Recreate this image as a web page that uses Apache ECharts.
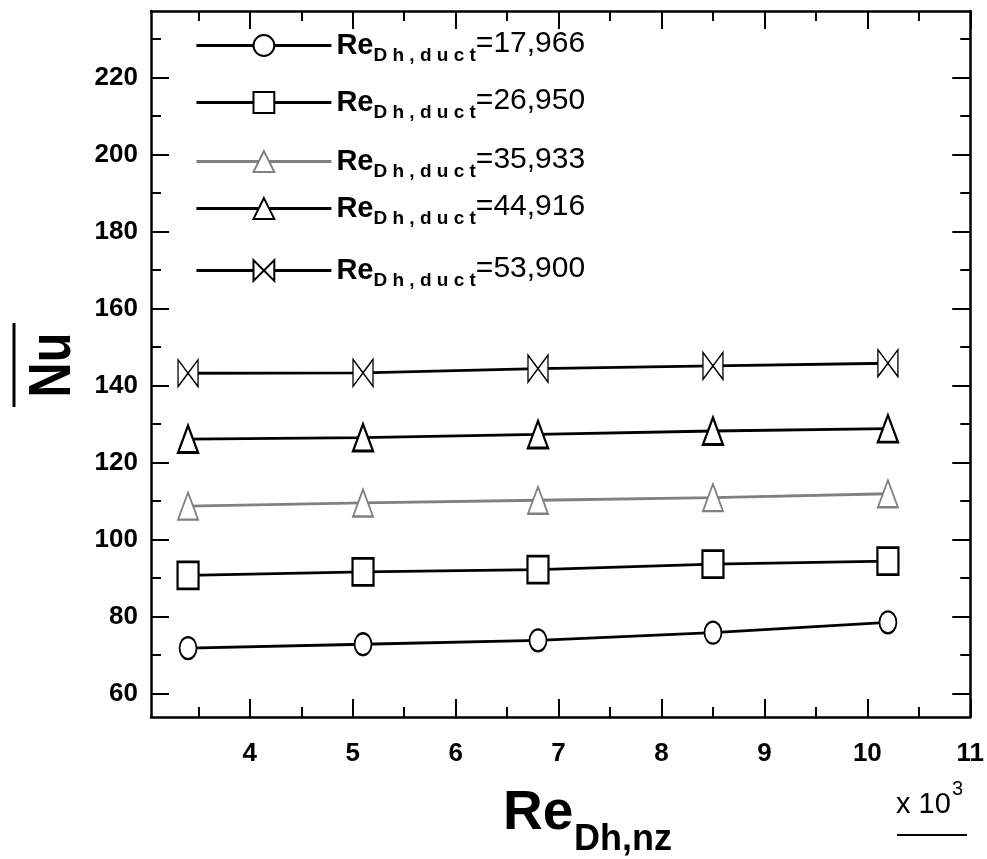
<!DOCTYPE html>
<html>
<head>
<meta charset="utf-8">
<title>Nu vs Re</title>
<script src="https://cdn.jsdelivr.net/npm/echarts@6/dist/echarts.min.js"></script>
<style>
html, body { margin: 0; padding: 0; background: #fff; }
#chart { width: 987px; height: 859px; }
</style>
</head>
<body>
<div id="chart"></div>
<script>
// x values (x 10^3)
var reNz = [3.4, 5.1, 6.8, 8.5, 10.2];

// duct Reynolds numbers (legend)
var reDuct = ['17,966', '26,950', '35,933', '44,916', '53,900'];

// mean Nusselt number per duct Re
var nu17966 = [71.8, 72.8, 73.8, 75.8, 78.5];
var nu26950 = [90.7, 91.6, 92.2, 93.6, 94.4];
var nu35933 = [108.7, 109.5, 110.2, 110.9, 111.9];
var nu44916 = [126.1, 126.5, 127.3, 128.2, 128.8];
var nu53900 = [143.2, 143.3, 144.4, 145.1, 145.8];

// ticks
var xTickLabels = [4, 5, 6, 7, 8, 9, 10, 11];
var xMinorTicks = [3.5, 4.5, 5.5, 6.5, 7.5, 8.5, 9.5, 10.5];
var yTickLabels = [60, 80, 100, 120, 140, 160, 180, 200, 220];
var yMinorTicks = [70, 90, 110, 130, 150, 170, 190, 210, 230];

var allNu = [nu17966, nu26950, nu35933, nu44916, nu53900];

var FONT = '"Liberation Sans", Arial, sans-serif';

var xMin = 3.04, xMax = 11;
var yMin = 53.9, yMax = 237.3;

var markerShapes = ['circle', 'rect', 'triangle', 'triangle',
	'path://M0,0 L0,20 L10,10 Z M20,0 L20,20 L10,10 Z'];
var markerSizes = [[17, 22], [21, 27], [20, 27], [20, 27], [20, 27]];
var lineColors = ['#000', '#000', '#808080', '#000', '#000'];
var borderWidths = [2, 2.5, 2, 2.5, 1.5];
var legendRows = [48, 105, 164, 211, 273];

function makeAxis(dim, position, values, tickLen, showLine, showLabel) {
	var ax = {
		type: 'value',
		position: position,
		min: dim === 'x' ? xMin : yMin,
		max: dim === 'x' ? xMax : yMax,
		splitLine: { show: false },
		axisLine: { show: showLine, lineStyle: { color: '#000', width: 2.5 } },
		axisTick: {
			show: true,
			inside: true,
			length: tickLen,
			customValues: values,
			lineStyle: { color: '#000', width: 2 }
		},
		axisLabel: { show: false }
	};
	if (showLabel) {
		ax.axisLabel = {
			show: true,
			customValues: values,
			margin: dim === 'x' ? 24 : 13,
			color: '#000',
			fontSize: 26,
			fontWeight: 'bold',
			fontFamily: FONT
		};
	}
	return ax;
}

var chart = echarts.init(document.getElementById('chart'));

var series = reDuct.map(function (name, i) {
	return {
		name: name,
		type: 'line',
		xAxisIndex: 0,
		yAxisIndex: 0,
		data: reNz.map(function (x, k) { return [x, allNu[i][k]]; }),
		symbol: markerShapes[i],
		symbolSize: markerSizes[i],
		showAllSymbol: true,
		lineStyle: { color: lineColors[i], width: 2.8 },
		itemStyle: { color: '#fff', borderColor: lineColors[i], borderWidth: borderWidths[i] },
		emphasis: { disabled: true }
	};
});

var legends = reDuct.map(function (name, i) {
	return {
		data: [name],
		left: 195,
		top: legendRows[i] - 22,
		padding: 0,
		orient: 'vertical',
		itemWidth: 135,
		itemHeight: 26,
		selectedMode: false,
		lineStyle: { width: 2.8 },
		formatter: function (n) {
			return '{re|Re}{sub|D h , d u c t}{val|=' + n + '}';
		},
		textStyle: {
			color: '#000',
			rich: {
				re: { fontSize: 29, fontWeight: 'bold', fontFamily: FONT, lineHeight: 44 },
				sub: { fontSize: 19, fontWeight: 'bold', fontFamily: FONT, lineHeight: 44, padding: [20, 0, 0, 0] },
				val: { fontSize: 30, fontFamily: FONT, lineHeight: 44, padding: [0, 0, 4, 0] }
			}
		}
	};
});

var option = {
	animation: false,
	backgroundColor: '#fff',
	grid: { left: 151, right: 14, top: 11, bottom: 142 },
	xAxis: [
		makeAxis('x', 'bottom', xTickLabels, 18, true, true),
		makeAxis('x', 'bottom', xMinorTicks, 10, false, false),
		makeAxis('x', 'top', xTickLabels, 18, true, false),
		makeAxis('x', 'top', xMinorTicks, 10, false, false)
	],
	yAxis: [
		makeAxis('y', 'left', yTickLabels, 18, true, true),
		makeAxis('y', 'left', yMinorTicks, 10, false, false),
		makeAxis('y', 'right', yTickLabels, 18, true, false),
		makeAxis('y', 'right', yMinorTicks, 10, false, false)
	],
	legend: legends,
	series: series,
	graphic: [
		{
			type: 'group', x: 53, y: 365, rotation: Math.PI / 2,
			children: [
				{ type: 'text', x: 0, y: 0, scaleX: 0.81,
					style: { text: 'Nu', fontSize: 60, fontWeight: 'bold', fontFamily: FONT, fill: '#000', align: 'center', verticalAlign: 'middle' } },
				{ type: 'line', shape: { x1: -42, y1: -39, x2: 42, y2: -39 }, style: { stroke: '#000', lineWidth: 3 } }
			]
		},
		{ type: 'text', x: 503, y: 814,
			style: { text: 'Re', fontSize: 55, fontWeight: 'bold', fontFamily: FONT, fill: '#000', verticalAlign: 'middle' } },
		{ type: 'text', x: 574, y: 840,
			style: { text: 'Dh,nz', fontSize: 36, fontWeight: 'bold', fontFamily: FONT, fill: '#000', verticalAlign: 'middle' } },
		{ type: 'text', x: 896, y: 805,
			style: { text: 'x 10', fontSize: 29, fontFamily: FONT, fill: '#000', verticalAlign: 'middle' } },
		{ type: 'text', x: 952, y: 789,
			style: { text: '3', fontSize: 20, fontFamily: FONT, fill: '#000', verticalAlign: 'middle' } },
		{ type: 'line', shape: { x1: 897, y1: 835, x2: 967, y2: 835 }, style: { stroke: '#000', lineWidth: 2 } }
	]
};

chart.setOption(option);
</script>
</body>
</html>
